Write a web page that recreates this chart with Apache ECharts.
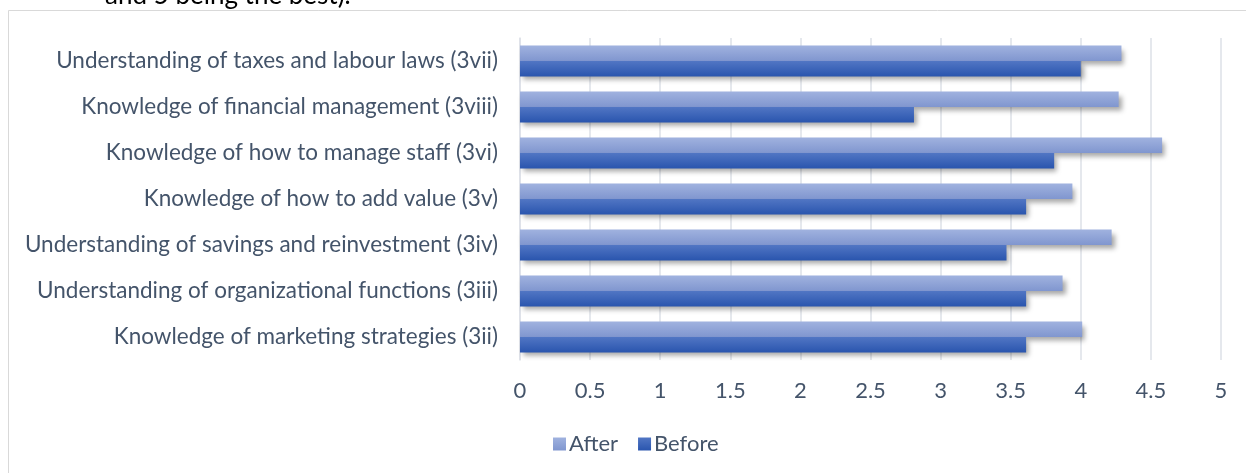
<!DOCTYPE html>
<html>
<head>
<meta charset="utf-8">
<script src="https://cdn.jsdelivr.net/npm/echarts@6/dist/echarts.min.js"></script>
<style>
  html, body { margin: 0; padding: 0; background: #ffffff; }
  #chart { width: 1246px; height: 473px; }
</style>
</head>
<body>
<div id="chart"></div>
<script>
// Skill areas, listed bottom to top as they appear on the category axis
const categories = [
  'Knowledge of marketing strategies (3ii)',
  'Understanding of organizational functions (3iii)',
  'Understanding of savings and reinvestment (3iv)',
  'Knowledge of how to add value (3v)',
  'Knowledge of how to manage staff (3vi)',
  'Knowledge of financial management (3viii)',
  'Understanding of taxes and labour laws (3vii)'
];

// Mean self-ratings (1–5 scale)
const afterValues  = [4.01, 3.87, 4.22, 3.94, 4.58, 4.27, 4.29];
const beforeValues = [3.61, 3.61, 3.47, 3.61, 3.81, 2.81, 4.00];

const seriesNames = ['After', 'Before'];
const headingText = 'and 5 being the best).';

const FONT = 'Lato, "Noto Sans", sans-serif';
const TEXT = '#44546a';

function grad(top, bottom) {
  return new echarts.graphic.LinearGradient(0, 0, 0, 1, [
    { offset: 0, color: top },
    { offset: 1, color: bottom }
  ]);
}

const chart = echarts.init(document.getElementById('chart'), null, { renderer: 'canvas' });

const barShadow = {
  shadowColor: 'rgba(0,0,0,0.35)',
  shadowBlur: 5,
  shadowOffsetX: 3,
  shadowOffsetY: 4
};

chart.setOption({
  animation: false,
  backgroundColor: '#ffffff',
  textStyle: { fontFamily: FONT },
  graphic: [
    {
      type: 'rect',
      shape: { x: 8.5, y: 10.5, width: 1300, height: 500 },
      style: { fill: 'none', stroke: '#d9d9d9', lineWidth: 1 },
      z: -10
    },
    {
      type: 'text',
      x: 105,
      y: 9,
      style: {
        text: headingText,
        fill: '#000000',
        font: '26px ' + FONT,
        textVerticalAlign: 'bottom',
        verticalAlign: 'bottom'
      }
    }
  ],
  legend: {
    data: seriesNames,
    left: 548,
    top: 428,
    itemWidth: 13,
    itemHeight: 13,
    itemGap: 20,
    icon: 'rect',
    textStyle: { color: TEXT, fontSize: 22, fontFamily: FONT, padding: [0, 0, 0, -2] }
  },
  grid: { left: 520, right: 25, top: 38, bottom: 113, containLabel: false },
  xAxis: {
    type: 'value',
    min: 0,
    max: 5,
    interval: 0.5,
    axisLine: { show: false },
    axisTick: { show: false },
    axisLabel: { color: TEXT, fontSize: 22, fontFamily: FONT, margin: 20 },
    splitLine: { show: true, lineStyle: { color: '#dde1e7', width: 1.5 } }
  },
  yAxis: {
    type: 'category',
    data: categories,
    axisLine: { show: true, lineStyle: { color: '#dde1e7', width: 1.5 } },
    axisTick: { show: false },
    axisLabel: { color: TEXT, fontSize: 22.5, fontFamily: FONT, margin: 22 }
  },
  series: [
    {
      name: 'After',
      type: 'bar',
      data: afterValues,
      barGap: '0%',
      barCategoryGap: '33%',
      itemStyle: Object.assign({ color: grad('#a0b2df', '#8096cf') }, barShadow)
    },
    {
      name: 'Before',
      type: 'bar',
      data: beforeValues,
      barGap: '0%',
      barCategoryGap: '33%',
      itemStyle: Object.assign({ color: grad('#5176c4', '#2a55ae') }, barShadow)
    }
  ]
});
</script>
</body>
</html>
